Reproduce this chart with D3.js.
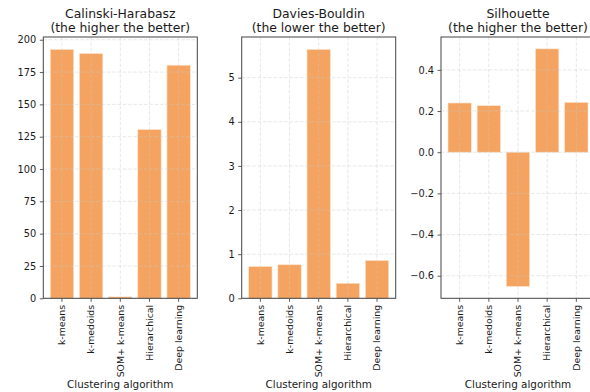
<!DOCTYPE html>
<html>
<head>
<meta charset="utf-8">
<script src="https://cdn.jsdelivr.net/npm/d3@7"></script>
<style>
  html, body { margin: 0; padding: 0; background: #fff; }
  svg { display: block; font-family: "DejaVu Sans", sans-serif; }
</style>
</head>
<body>
<svg id="chart" width="590" height="392"></svg>
<script>
// Clustering algorithms compared on three internal validity indices
const algorithms = ["k-means", "k-medoids", "SOM+ k-means", "Hierarchical", "Deep learning"];

const calinskiHarabasz = [192.5, 189.3, 1.1, 130.5, 180.3];
const daviesBouldin    = [0.72, 0.76, 5.64, 0.34, 0.855];
const silhouette       = [0.239, 0.226, -0.652, 0.502, 0.242];

const panelTitles = [
  ["Calinski-Harabasz", "(the higher the better)"],
  ["Davies-Bouldin", "(the lower the better)"],
  ["Silhouette", "(the higher the better)"]
];
const chTicks  = [0, 25, 50, 75, 100, 125, 150, 175, 200];
const dbTicks  = [0, 1, 2, 3, 4, 5];
const silTicks = [-0.6, -0.4, -0.2, 0.0, 0.2, 0.4];
const xAxisLabel = "Clustering algorithm";

const panels = [
  { values: calinskiHarabasz, ticks: chTicks, fmt: d3.format("d"), title: panelTitles[0], left: 43.3 },
  { values: daviesBouldin, ticks: dbTicks, fmt: d3.format("d"), title: panelTitles[1], left: 241.7 },
  { values: silhouette, ticks: silTicks, fmt: d3.format(".1f"), title: panelTitles[2], left: 441 }
];

const svg = d3.select("#chart");
const plotTop = 37, plotBottom = 298.3, plotW = 154;
const barColor = "#f4a460";

panels.forEach(p => {
  const g = svg.append("g").attr("transform", `translate(${p.left},0)`);

  // y-limits with 5% padding; zero stays pinned when all bars are positive
  const vmin = d3.min(p.values), vmax = d3.max(p.values);
  const lo0 = Math.min(0, vmin), span = vmax - lo0;
  const lo = vmin < 0 ? vmin - 0.05 * span : 0;
  const hi = vmax + 0.05 * span;

  const x = d3.scaleBand().domain(algorithms).range([0, plotW])
    .paddingInner(0.2).paddingOuter(0.24);
  const y = d3.scaleLinear().domain([lo, hi]).range([plotBottom, plotTop]);

  // bars
  g.selectAll("rect.bar").data(p.values).join("rect")
    .attr("class", "bar")
    .attr("x", (d, i) => x(algorithms[i]))
    .attr("width", x.bandwidth())
    .attr("y", d => y(Math.max(0, d)))
    .attr("height", d => Math.abs(y(d) - y(0)))
    .attr("fill", barColor)
    .attr("stroke", "#fbe3cc")
    .attr("stroke-width", 0.6);

  // dashed grid over the bars
  const grid = g.append("g").attr("stroke", "#c8c8c8").attr("stroke-opacity", 0.55)
    .attr("stroke-width", 0.8).attr("stroke-dasharray", "3.5,1.8");
  grid.selectAll("line.h").data(p.ticks).join("line")
    .attr("x1", 0).attr("x2", plotW)
    .attr("y1", d => y(d)).attr("y2", d => y(d));
  grid.selectAll("line.v").data(algorithms).join("line")
    .attr("x1", d => x(d) + x.bandwidth() / 2).attr("x2", d => x(d) + x.bandwidth() / 2)
    .attr("y1", plotTop).attr("y2", plotBottom);

  // y axis
  const yAxis = g.append("g")
    .call(d3.axisLeft(y).tickValues(p.ticks).tickSize(3.5).tickPadding(3.5)
      .tickFormat(d => p.fmt(d).replace("-", "\u2212")));
  yAxis.select(".domain").remove();
  yAxis.selectAll(".tick line").attr("stroke", "#333").attr("stroke-width", 0.8);
  yAxis.selectAll(".tick text").attr("fill", "#1a1a1a").style("font-size", "9.8px")
    .style("font-family", "DejaVu Sans");

  // x axis with rotated labels
  const xAxis = g.append("g").attr("transform", `translate(0,${plotBottom})`)
    .call(d3.axisBottom(x).tickSize(3.5).tickPadding(3.5));
  xAxis.select(".domain").remove();
  xAxis.selectAll(".tick line").attr("stroke", "#333").attr("stroke-width", 0.8);
  xAxis.selectAll(".tick text")
    .attr("fill", "#1a1a1a").style("font-size", "9.4px").style("font-family", "DejaVu Sans")
    .attr("text-anchor", "end")
    .attr("transform", "translate(0,6.5) rotate(-90)")
    .attr("x", 0).attr("y", 0).attr("dy", "0.35em");

  // frame
  g.append("rect").attr("x", 0).attr("y", plotTop).attr("width", plotW).attr("height", plotBottom - plotTop)
    .attr("fill", "none").attr("stroke", "#444").attr("stroke-width", 1);

  // title (two lines)
  const t = g.append("text").attr("text-anchor", "middle").attr("fill", "#1a1a1a")
    .style("font-size", "12.4px");
  t.append("tspan").attr("x", plotW / 2).attr("y", 17.5).text(p.title[0]);
  t.append("tspan").attr("x", plotW / 2).attr("y", 32).text(p.title[1]);

  // x-axis label
  g.append("text").attr("x", plotW / 2).attr("y", 387.5).attr("text-anchor", "middle")
    .attr("fill", "#1a1a1a").style("font-size", "10.4px").text(xAxisLabel);
});
</script>
</body>
</html>
